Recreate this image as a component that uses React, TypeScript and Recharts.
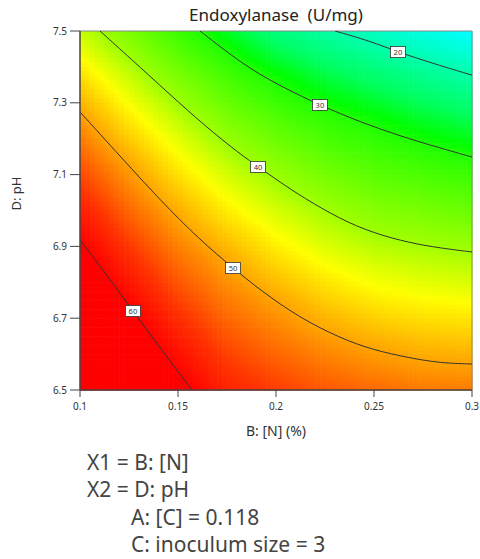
import React from "react";
import {
  ComposedChart,
  Line,
  XAxis,
  YAxis,
  ReferenceArea,
  ReferenceDot,
  ReferenceLine,
} from "recharts";

// B: [N] (%) and D: pH grid positions of the response surface
const nGrid = [0.1, 0.125, 0.15, 0.175, 0.2, 0.225, 0.25, 0.275, 0.3];
const phGrid = [7.5, 7.375, 7.25, 7.125, 7.0, 6.875, 6.75, 6.625, 6.5];

// Endoxylanase (U/mg) across nGrid, one row per pH level (top to bottom)
const endoAtPh7500 = [41.8, 36.9, 31.8, 27.3, 22.9, 20.4, 18.2, 15.8, 13.7];
const endoAtPh7375 = [46.4, 41.8, 37.0, 32.6, 29.1, 26.1, 24.0, 21.9, 20.1];
const endoAtPh7250 = [50.7, 45.9, 41.6, 37.3, 33.9, 31.3, 29.3, 27.3, 25.6];
const endoAtPh7125 = [54.2, 50.0, 45.5, 41.7, 38.5, 35.6, 33.6, 32.2, 30.9];
const endoAtPh7000 = [57.7, 53.2, 49.3, 45.5, 42.5, 40.0, 37.8, 36.7, 35.6];
const endoAtPh6875 = [61.0, 56.4, 52.4, 49.4, 46.2, 43.7, 41.9, 41.0, 40.3];
const endoAtPh6750 = [63.8, 59.6, 55.3, 52.1, 49.9, 47.5, 45.7, 44.8, 44.3];
const endoAtPh6625 = [66.6, 62.3, 58.3, 54.7, 52.7, 51.0, 49.6, 48.6, 48.3];
const endoAtPh6500 = [69.4, 64.9, 60.9, 57.3, 55.5, 54.0, 53.1, 52.2, 52.1];

const surface = [
  endoAtPh7500,
  endoAtPh7375,
  endoAtPh7250,
  endoAtPh7125,
  endoAtPh7000,
  endoAtPh6875,
  endoAtPh6750,
  endoAtPh6625,
  endoAtPh6500,
];

// contour lines, as (N, pH) points
const contour20 = [
  { x: 0.2301, y: 7.5 },
  { x: 0.248, y: 7.472 },
  { x: 0.2622, y: 7.4415 },
  { x: 0.2811, y: 7.408 },
  { x: 0.3, y: 7.377 },
];
const contour30 = [
  { x: 0.1612, y: 7.5 },
  { x: 0.1714, y: 7.4568 },
  { x: 0.1816, y: 7.415 },
  { x: 0.1918, y: 7.3788 },
  { x: 0.202, y: 7.3482 },
  { x: 0.2122, y: 7.3203 },
  { x: 0.2224, y: 7.2939 },
  { x: 0.2429, y: 7.2465 },
  { x: 0.2633, y: 7.2075 },
  { x: 0.2837, y: 7.1741 },
  { x: 0.3, y: 7.149 },
];
const contour40 = [
  { x: 0.1102, y: 7.5 },
  { x: 0.1255, y: 7.4248 },
  { x: 0.1459, y: 7.3231 },
  { x: 0.1638, y: 7.2354 },
  { x: 0.1816, y: 7.1574 },
  { x: 0.1918, y: 7.1184 },
  { x: 0.202, y: 7.0794 },
  { x: 0.2138, y: 7.0362 },
  { x: 0.2327, y: 6.9763 },
  { x: 0.2495, y: 6.9373 },
  { x: 0.2684, y: 6.9095 },
  { x: 0.2837, y: 6.8955 },
  { x: 0.3, y: 6.8844 },
];
const contour50 = [
  { x: 0.1, y: 7.2744 },
  { x: 0.1204, y: 7.1518 },
  { x: 0.1408, y: 7.0292 },
  { x: 0.1612, y: 6.9178 },
  { x: 0.1781, y: 6.8398 },
  { x: 0.1918, y: 6.7786 },
  { x: 0.2122, y: 6.7006 },
  { x: 0.2327, y: 6.6448 },
  { x: 0.2495, y: 6.6114 },
  { x: 0.2684, y: 6.5891 },
  { x: 0.2837, y: 6.5752 },
  { x: 0.3, y: 6.5724 },
];
const contour60 = [
  { x: 0.1, y: 6.9178 },
  { x: 0.1102, y: 6.8454 },
  { x: 0.1204, y: 6.7702 },
  { x: 0.127, y: 6.72 },
  { x: 0.1357, y: 6.656 },
  { x: 0.1459, y: 6.5808 },
  { x: 0.1571, y: 6.5 },
];
const contours = [contour20, contour30, contour40, contour50, contour60];

const contourLabels = [
  { level: 20, x: 0.2622, y: 7.4415 },
  { level: 30, x: 0.2224, y: 7.2939 },
  { level: 40, x: 0.1908, y: 7.1212 },
  { level: 50, x: 0.1781, y: 6.8398 },
  { level: 60, x: 0.127, y: 6.72 },
];

const nTicks = [0.1, 0.15, 0.2, 0.25, 0.3];
const phTicks = [6.5, 6.7, 6.9, 7.1, 7.3, 7.5];

const factorLines = ["X1 = B: [N]", "X2 = D: pH"];
const actualFactors = ["A: [C] = 0.118", "C: inoculum size = 3"];

const FONT = "'Noto Sans', 'Open Sans', sans-serif";

// value -> hue, red for high activity through yellow and green to cyan
const HUE_STOPS: [number, number][] = [
  [14, 180],
  [20, 160],
  [25, 142],
  [30, 112],
  [40, 82],
  [45, 58],
  [50, 38],
  [56, 12],
  [60, 0],
];

const colorFor = (v: number) => {
  let hue = HUE_STOPS[0][1];
  if (v >= HUE_STOPS[HUE_STOPS.length - 1][0]) hue = 0;
  else {
    for (let i = 0; i < HUE_STOPS.length - 1; i++) {
      const [v0, h0] = HUE_STOPS[i];
      const [v1, h1] = HUE_STOPS[i + 1];
      if (v >= v0 && v <= v1) {
        hue = h0 + ((v - v0) / (v1 - v0)) * (h1 - h0);
        break;
      }
    }
  }
  return `hsl(${hue.toFixed(1)}, 100%, 50%)`;
};

const SUB = 10;

// one grid cell, shaded smoothly between its four corner values
const SurfacePatch = (props: any) => {
  const { x, y, width, height, corners } = props;
  const [tl, tr, bl, br] = corners;
  const rects = [];
  for (let i = 0; i < SUB; i++) {
    for (let j = 0; j < SUB; j++) {
      const u = (j + 0.5) / SUB;
      const v = (i + 0.5) / SUB;
      const val =
        tl * (1 - u) * (1 - v) + tr * u * (1 - v) + bl * (1 - u) * v + br * u * v;
      rects.push(
        <rect
          key={`${i}-${j}`}
          x={x + (j * width) / SUB}
          y={y + (i * height) / SUB}
          width={width / SUB + 0.6}
          height={height / SUB + 0.6}
          fill={colorFor(val)}
        />
      );
    }
  }
  return <g>{rects}</g>;
};

const LevelTag = (props: any) => {
  const { cx, cy, level } = props;
  return (
    <g>
      <rect x={cx - 7.5} y={cy - 5.5} width={15} height={11} fill="#fff" stroke="#333" strokeWidth={0.8} />
      <text x={cx} y={cy + 2.6} textAnchor="middle" fontSize={7.5} fill="#333" fontFamily={FONT}>
        {level}
      </text>
    </g>
  );
};

const cells: { x1: number; x2: number; y1: number; y2: number; corners: number[] }[] = [];
for (let i = 0; i < phGrid.length - 1; i++) {
  for (let j = 0; j < nGrid.length - 1; j++) {
    cells.push({
      x1: nGrid[j],
      x2: nGrid[j + 1],
      y1: phGrid[i + 1],
      y2: phGrid[i],
      corners: [surface[i][j], surface[i][j + 1], surface[i + 1][j], surface[i + 1][j + 1]],
    });
  }
}

export default function App() {
  return (
    <div style={{ position: "absolute", left: 0, top: 0, width: 480, height: 559, background: "#fff", fontFamily: FONT }}>
      <div
        style={{
          position: "absolute",
          left: 80,
          width: 392,
          top: 3,
          textAlign: "center",
          fontSize: 17,
          color: "#222",
          whiteSpace: "pre",
        }}
      >
        {"Endoxylanase  (U/mg)"}
      </div>
      <ComposedChart
        width={480}
        height={559}
        margin={{ top: 31, right: 8, left: 0, bottom: 114 }}
      >
        <XAxis
          type="number"
          dataKey="x"
          domain={[0.1, 0.3]}
          ticks={nTicks}
          allowDataOverflow
          height={55}
          tickSize={7}
          tickMargin={6}
          tick={{ fontSize: 10, fill: "#333", fontFamily: FONT }}
          stroke="#444"
          axisLine={{ stroke: "#444", strokeWidth: 1.5 }}
          label={{ value: "B: [N] (%)", position: "insideBottom", offset: 9, fontSize: 14, fill: "#333", fontFamily: FONT }}
        />
        <YAxis
          type="number"
          dataKey="y"
          domain={[6.5, 7.5]}
          ticks={phTicks}
          allowDataOverflow
          width={80}
          tickSize={10}
          tickMargin={3}
          tickFormatter={(v: number) => v.toFixed(1)}
          tick={{ fontSize: 10, fill: "#333", fontFamily: FONT }}
          stroke="#444"
          axisLine={{ stroke: "#444", strokeWidth: 1.5 }}
          label={{ value: "D: pH", angle: -90, position: "insideLeft", offset: 16, fontSize: 13, fill: "#333", fontFamily: FONT }}
        />
        {cells.map((c, idx) => (
          <ReferenceArea
            key={`cell-${idx}`}
            x1={c.x1}
            x2={c.x2}
            y1={c.y1}
            y2={c.y2}
            ifOverflow="visible"
            shape={(p: any) => <SurfacePatch {...p} corners={c.corners} />}
          />
        ))}
        <ReferenceLine y={7.5} stroke="#888" strokeWidth={1} ifOverflow="visible" />
        <ReferenceLine x={0.3} stroke="#888" strokeWidth={1} ifOverflow="visible" />
        {contours.map((pts, idx) => (
          <Line
            key={`contour-${idx}`}
            data={pts}
            dataKey="y"
            type="basis"
            stroke="#333"
            strokeWidth={1}
            dot={false}
            activeDot={false}
            isAnimationActive={false}
          />
        ))}
        {contourLabels.map((l) => (
          <ReferenceDot
            key={`tag-${l.level}`}
            x={l.x}
            y={l.y}
            r={0}
            ifOverflow="visible"
            shape={(p: any) => <LevelTag {...p} level={l.level} />}
          />
        ))}
      </ComposedChart>
      {factorLines.map((t, i) => (
        <div
          key={t}
          style={{ position: "absolute", left: 87, top: 448 + i * 27, fontSize: 21, lineHeight: "28px", color: "#444", whiteSpace: "pre" }}
        >
          {t}
        </div>
      ))}
      {actualFactors.map((t, i) => (
        <div
          key={t}
          style={{ position: "absolute", left: 131, top: 503 + i * 27, fontSize: 21, lineHeight: "28px", color: "#444", whiteSpace: "pre" }}
        >
          {t}
        </div>
      ))}
    </div>
  );
}
